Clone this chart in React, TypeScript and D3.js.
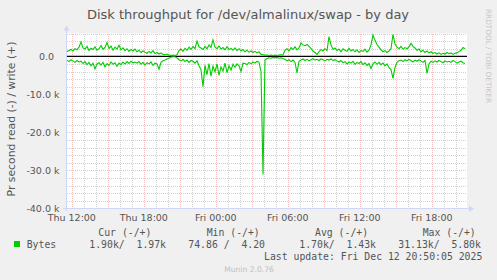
import React from 'react';
import * as d3 from 'd3';

// ---- data (values in k bytes per second) ----
const writeK = [
  1.2, 1.5, 1.8, 1.4, 2.0, 1.7, 2.4, 3.8, 2.2, 1.9, 2.6, 1.5, 2.1, 1.8, 2.5, 1.6, 2.0,
  2.8, 1.9, 2.3, 3.6, 2.1, 2.7, 1.6, 2.4, 1.9, 2.9, 1.7, 2.2, 1.5, 2.0, 1.3, 1.8, 1.4, 1.9,
  1.2, 1.6, 1.0, 1.4, 1.1, 0.8, 1.3, 0.9, 1.5, 0.7, 1.0, 0.6, 0.9, 0.5, 0.4, 0.6, 0.3,
  0.2, 0.3, 0.2, 0.4, 1.5, 1.9, 1.3, 2.1, 1.6, 2.4, 1.8, 2.6, 2.0, 4.0, 2.5,
  2.2, 1.8, 2.6, 2.0, 3.0, 2.3, 4.3, 2.4, 2.0, 2.7, 1.9, 2.3, 1.7, 2.5, 1.8, 2.1, 1.6, 2.2,
  1.5, 2.0, 1.4, 1.8, 1.2, 1.6, 1.1, 1.4, 1.0, 1.3, 0.9, 1.2,
  0.5, 0.4, 0.3, 0.3, 0.2, 0.3, 0.2, 0.3, 0.2, 0.3, 0.4, 0.3,
  1.6, 2.0, 1.4, 2.3, 1.8, 2.5, 1.7, 2.2,
  3.5, 3.0, 2.8, 3.1, 2.6, 2.0, 1.4, 1.0, 0.5, 1.2, 1.8, 1.4, 2.0, 1.5,
  5.2, 3.0, 1.8, 2.2, 1.5, 1.9, 1.2, 2.0, 1.6, 1.3, 2.1, 1.4, 1.8, 1.2, 1.7, 1.0, 1.5, 1.3, 1.9, 1.1, 1.6,
  3.0, 5.6, 4.2, 3.1, 2.4, 1.7, 1.2, 1.5, 1.0, 1.4, 2.0,
  5.8, 3.2, 2.4, 2.0, 2.6, 1.9, 2.3, 2.0, 2.5, 3.4, 2.6, 2.2, 1.6, 1.9, 1.2, 1.6, 1.0, 1.4, 0.9,
  1.2, 0.8, 1.0, 0.6, 0.9, 0.5, 0.8, 0.6, 1.0, 0.7, 0.9, 0.5, 0.8, 0.9, 1.3, 1.6, 2.3, 1.97,
];

const readK = [
  1.0, 1.4, 0.9, 1.2, 1.6, 1.1, 1.5, 1.3, 1.9, 1.4, 2.2, 1.6, 2.5, 1.8, 3.3, 2.0, 1.7,
  2.3, 1.6, 2.8, 1.9, 2.4, 1.5, 2.1, 1.7, 2.6, 1.8, 2.2, 1.5, 2.0, 1.4, 1.9, 1.3, 1.7, 1.5,
  1.8, 1.4, 2.1, 1.6, 2.3, 1.7, 2.0, 1.5, 2.4, 1.8, 2.0, 3.4, 1.6, 1.2, 1.0, 0.7, 0.5,
  0.2, 0.1, 0.1, 0.4, 0.9, 1.2, 0.8, 1.4, 1.0, 1.6, 1.1, 1.3, 1.8, 1.2, 2.5,
  3.5, 8.0, 2.4, 4.8, 1.9, 5.2, 2.6, 4.1, 2.0, 5.0, 2.8, 3.9, 1.8, 4.3, 2.5, 3.6, 2.1, 2.9,
  2.0, 2.5, 4.0, 1.8, 1.9, 2.2, 1.6, 2.0, 1.5, 1.8, 1.3, 1.6,
  4.0, 31.13, 1.0, 0.6, 0.4, 0.5, 0.3, 0.4, 0.3, 0.5, 0.4, 0.6,
  0.8, 1.2, 0.9, 1.4, 1.0, 1.6, 4.4, 1.3,
  1.0, 0.7, 1.1, 0.8, 1.2, 0.9, 0.6, 1.0, 0.8, 1.1, 0.7, 0.9, 1.2, 0.8, 1.0, 0.7, 1.1, 0.9,
  1.2, 1.5, 1.1, 1.7, 1.4, 2.0, 1.5, 1.8, 1.3, 2.1, 1.6, 1.9, 1.4, 2.2, 1.7, 2.4, 1.9,
  3.2, 2.0, 1.5, 2.1, 1.6,
  2.2, 1.8, 2.5, 2.0, 3.0, 3.5, 5.8, 3.0,
  1.6, 1.2, 1.0, 1.4, 0.9, 1.2, 0.8, 1.1, 1.5, 1.0, 1.3, 0.9, 1.2, 1.6, 1.1,
  4.5, 2.0,
  1.3, 1.6, 1.2, 1.5, 1.1, 1.4, 1.7, 1.2, 1.5, 1.3, 1.6, 1.1, 1.4, 1.8, 1.5, 1.3, 1.7, 1.90,
];

const startTime = new Date(2025, 11, 11, 11, 36);
const endTime = new Date(2025, 11, 12, 20, 56);
const stepMinutes = 10;

const yMin = -40000;
const yMax = 6000;
const yMajorStep = 10000;
const yMinorStep = 2000;

const title = 'Disk throughput for /dev/almalinux/swap - by day';
const yLabel = 'Pr second read (-) / write (+)';
const sideLabel = 'RRDTOOL / TOBI OETIKER';
const seriesName = 'Bytes';
const legendHeaders = ['Cur (-/+)', 'Min (-/+)', 'Avg (-/+)', 'Max (-/+)'];
const legendValues = ['1.90k/  1.97k', '74.86 /  4.20', '1.70k/  1.43k', '31.13k/  5.80k'];
const lastUpdate = 'Last update: Fri Dec 12 20:50:05 2025';
const footer = 'Munin 2.0.76';

// ---- layout ----
const W = 497;
const H = 280;
const plotLeft = 67;
const plotRight = 467;
const plotTop = 33.5;
const plotBottom = 208.3;
const headerX = [98.3, 206.7, 315, 422.7];
const valueX = [89.3, 188.3, 299.3, 398.3];

const GREEN = '#00CC00';
const AXIS = '#CFD6F8';
const FONT = '#555555';

export default function App() {
  const x = d3.scaleTime().domain([startTime, endTime]).range([plotLeft, plotRight]);
  const y = d3.scaleLinear().domain([yMin, yMax]).range([plotBottom, plotTop]);

  const times = writeK.map((_, i) => d3.timeMinute.offset(startTime, i * stepMinutes));
  const line = d3
    .line<[Date, number]>()
    .x((d) => x(d[0]))
    .y((d) => y(d[1]));
  const writePath = line(writeK.map((v, i) => [times[i], v * 1000]))!;
  const readPath = line(readK.map((v, i) => [times[i], -v * 1000]))!;

  const hMinor = d3.range(yMin, yMax + 1, yMinorStep).filter((v) => v % yMajorStep !== 0);
  const hMajor = d3.range(yMin, yMax + 1, yMajorStep);
  const vMinor = d3.timeHour.every(1)!.range(startTime, endTime).filter((t) => t.getHours() % 3 !== 0);
  const vMajor = d3.timeHour.every(3)!.range(startTime, endTime);
  const vLabels = d3.timeHour.every(6)!.range(startTime, endTime);
  const fmt = d3.timeFormat('%a %H:%M');

  const sans = 'DejaVu Sans, sans-serif';
  const mono = 'DejaVu Sans Mono, monospace';

  return (
    <svg
      width={W}
      height={H}
      style={{ position: 'absolute', left: 0, top: 0, display: 'block' }}
      xmlns="http://www.w3.org/2000/svg"
    >
      <rect x={0} y={0} width={W} height={H} fill="#F0F0F0" />
      <rect x={plotLeft} y={plotTop} width={plotRight - plotLeft} height={plotBottom - plotTop} fill="#FFFFFF" />

      {/* minor grid */}
      <g stroke="rgba(143,143,143,0.4)" strokeWidth={1} strokeDasharray="1,1" shapeRendering="crispEdges">
        {hMinor.map((v) => (
          <line key={'hm' + v} x1={plotLeft} x2={plotRight} y1={Math.round(y(v)) + 0.5} y2={Math.round(y(v)) + 0.5} />
        ))}
        {vMinor.map((t) => (
          <line key={'vm' + t.getTime()} x1={Math.round(x(t)) + 0.5} x2={Math.round(x(t)) + 0.5} y1={plotTop} y2={plotBottom} />
        ))}
      </g>
      {/* major grid */}
      <g stroke="rgba(222,79,79,0.36)" strokeWidth={1} strokeDasharray="1,1" shapeRendering="crispEdges">
        {hMajor.map((v) => (
          <line key={'hM' + v} x1={plotLeft} x2={plotRight} y1={Math.round(y(v)) + 0.5} y2={Math.round(y(v)) + 0.5} />
        ))}
        {vMajor.map((t) => (
          <line key={'vM' + t.getTime()} x1={Math.round(x(t)) + 0.5} x2={Math.round(x(t)) + 0.5} y1={plotTop} y2={plotBottom} />
        ))}
      </g>

      {/* axes */}
      <g stroke={AXIS} strokeWidth={1} shapeRendering="crispEdges">
        <line x1={plotLeft - 0.5} x2={plotLeft - 0.5} y1={plotBottom + 3} y2={plotTop - 4} />
        <line x1={plotLeft - 4} x2={plotRight + 3} y1={Math.round(plotBottom) + 0.5} y2={Math.round(plotBottom) + 0.5} />
      </g>
      <polygon
        points={`${plotLeft - 3.5},${plotTop - 3} ${plotLeft + 2.5},${plotTop - 3} ${plotLeft - 0.5},${plotTop - 8}`}
        fill={AXIS}
      />
      <polygon
        points={`${plotRight + 2},${plotBottom - 2.5} ${plotRight + 2},${plotBottom + 3.5} ${plotRight + 7},${plotBottom + 0.5}`}
        fill={AXIS}
      />

      {/* zero line */}
      <line x1={plotLeft} x2={plotRight} y1={y(0)} y2={y(0)} stroke="#000" strokeWidth={1.2} />

      {/* series */}
      <path d={writePath} fill="none" stroke={GREEN} strokeWidth={1.1} />
      <path d={readPath} fill="none" stroke={GREEN} strokeWidth={1.1} />

      {/* y tick labels */}
      <g fontFamily={sans} fontSize={9.5} fill={FONT} textAnchor="end">
        {hMajor.map((v) => (
          <text key={'yl' + v} x={v === 0 ? 54 : 59.5} y={y(v) + 3.4}>
            {v === 0 ? '0.0' : `${(v / 1000).toFixed(1)} k`}
          </text>
        ))}
      </g>
      {/* x tick labels */}
      <g fontFamily={sans} fontSize={9.5} fill={FONT} textAnchor="middle">
        {vLabels.map((t) => (
          <text key={'xl' + t.getTime()} x={x(t)} y={220.5}>
            {fmt(t)}
          </text>
        ))}
      </g>

      {/* title */}
      <text x={248} y={18.5} fontFamily={sans} fontSize={13} fill={FONT} textAnchor="middle">
        {title}
      </text>
      {/* y label */}
      <text
        transform={`translate(14.5, 119) rotate(-90)`}
        fontFamily={sans}
        fontSize={10.8}
        fill={FONT}
        textAnchor="middle"
      >
        {yLabel}
      </text>
      {/* side label */}
      <text
        transform={`translate(486, 56) rotate(90)`}
        fontFamily={sans}
        fontSize={7.3}
        fill="#C8C8C8"
        textAnchor="middle"
      >
        {sideLabel}
      </text>

      {/* legend */}
      <g fontFamily={mono} fontSize={9.8} fill={FONT} style={{ whiteSpace: 'pre' }}>
        {legendHeaders.map((h, i) => (
          <text key={'lh' + i} x={headerX[i]} y={235.5} xmlSpace="preserve">
            {h}
          </text>
        ))}
        <rect x={14} y={241} width={6} height={6} fill={GREEN} />
        <text x={26.7} y={247.5}>{seriesName}</text>
        {legendValues.map((v, i) => (
          <text key={'lv' + i} x={valueX[i]} y={247.5} xmlSpace="preserve">
            {v}
          </text>
        ))}
        <text x={482.3} y={259.5} textAnchor="end" xmlSpace="preserve">
          {lastUpdate}
        </text>
      </g>
      <text x={249} y={272} fontFamily={sans} fontSize={7.6} fill="#C0C0C0" textAnchor="middle">
        {footer}
      </text>
    </svg>
  );
}
